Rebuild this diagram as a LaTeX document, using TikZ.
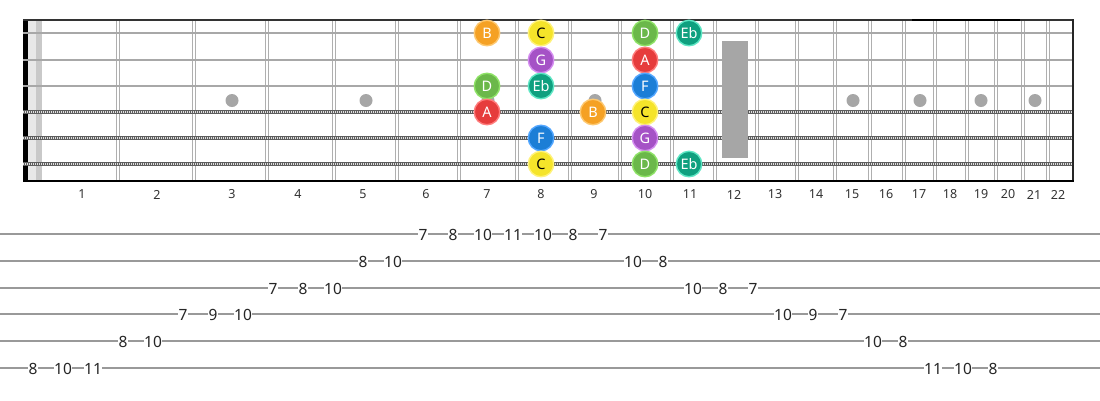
\documentclass[tikz,border=0pt]{standalone}
\usepackage{fontspec}
\setmainfont{Noto Sans}
\definecolor{cB}{HTML}{F5A124}\definecolor{cBr}{HTML}{FDC870}
\definecolor{cC}{HTML}{F5E42A}\definecolor{cCr}{HTML}{FFF27A}
\definecolor{cD}{HTML}{6BB84A}\definecolor{cDr}{HTML}{8EE266}
\definecolor{cE}{HTML}{0FA07F}\definecolor{cEr}{HTML}{5EE6C4}
\definecolor{cG}{HTML}{A552C6}\definecolor{cGr}{HTML}{D48CF0}
\definecolor{cA}{HTML}{E63C3C}\definecolor{cAr}{HTML}{FF7C7C}
\definecolor{cF}{HTML}{1C7ED6}\definecolor{cFr}{HTML}{52A6FF}
\definecolor{fretc}{HTML}{AFAFAF}
\definecolor{dotc}{HTML}{A6A6A6}
\definecolor{plainc}{HTML}{A8A8A8}
\definecolor{woundc}{HTML}{5E5E5E}
\definecolor{tabc}{HTML}{999999}
\begin{document}
\begin{tikzpicture}[x=1pt,y=-1pt,
  fretw/.style={draw=fretc,line width=1.3pt},
  plainstr/.style={draw=plainc,line width=2.8pt},
  woundstr/.style={draw=woundc,line width=4.6pt},
  woundtex/.style={draw=gray!25,line width=1.8pt,dash pattern=on 1pt off 1pt},
  fdot/.style={circle,fill=dotc,inner sep=0pt,minimum size=13pt},
  note/.style={circle,inner sep=0pt,minimum size=25.5pt,line width=1.4pt,text=white,
    font=\fontsize{14.5}{14.5}\selectfont},
  nB/.style={note,fill=cB,draw=cBr},
  nC/.style={note,fill=cC,draw=cCr,text=black},
  nD/.style={note,fill=cD,draw=cDr},
  nE/.style={note,fill=cE,draw=cEr},
  nG/.style={note,fill=cG,draw=cGr},
  nA/.style={note,fill=cA,draw=cAr},
  nF/.style={note,fill=cF,draw=cFr},
  fnum/.style={text=black!80,font=\fontsize{12.5}{12.5}\selectfont,inner sep=0pt},
  tabline/.style={draw=tabc,line width=2pt},
  tabn/.style={text=black!85,fill=white,inner sep=0.5pt,font=\fontsize{15.5}{15.5}\selectfont}
]
\useasboundingbox (0,0) rectangle (1100,400);
\fill[white] (0,0) rectangle (1100,400);
% nut area
\fill[gray!18] (28,20) rectangle (36,181);
\fill[gray!42] (36,20) rectangle (41.5,181);
\fill[black] (23,20) rectangle (27.5,181);
% fret wires
\foreach \b in {118,194,267,334,397,459,517,570,620,672,715,757,797,835,870,904,935,967,996,1023,1048}{
  \draw[fretw] (\b-1.4,20) -- (\b-1.4,181);
  \draw[fretw] (\b+1.4,20) -- (\b+1.4,181);
}
% inlay dots
\foreach \x/\n in {232/3,366/5,488/7,595/9,853/15,920/17,981/19,1035/21}{
  \node[fdot] (dot\n) at (\x,100.5) {};
}
% strings
\foreach \y in {33,60,86}{ \draw[plainstr] (23,\y) -- (1074,\y); }
\foreach \y in {112,138,164}{
  \draw[woundstr] (23,\y) -- (1074,\y);
  \draw[woundtex] (23,\y) -- (1074,\y);
}
% 12th fret marker
\fill[dotc] (722,41) rectangle (748,158);
% borders
\draw[black!80,line width=2pt] (23,20) -- (1074,20);
\draw[black,line width=2.3pt] (912,19.7) -- (1020,19.7);
\draw[black!85,line width=2pt] (1073,19) -- (1073,182);
\draw[black,line width=2pt] (23,181) -- (1074,181);
% notes
\node[nB] (s1f7)  at (487,33) {B};
\node[nC] (s1f8)  at (541,33) {C};
\node[nD] (s1f10) at (645,33) {D};
\node[nE] (s1f11) at (689,33) {Eb};
\node[nG] (s2f8)  at (541,60) {G};
\node[nA] (s2f10) at (645,60) {A};
\node[nD] (s3f7)  at (487,86) {D};
\node[nE] (s3f8)  at (541,86) {Eb};
\node[nF] (s3f10) at (645,86) {F};
\node[nA] (s4f7)  at (487,112) {A};
\node[nB] (s4f9)  at (593,112) {B};
\node[nC] (s4f10) at (645,112) {C};
\node[nF] (s5f8)  at (541,138) {F};
\node[nG] (s5f10) at (645,138) {G};
\node[nC] (s6f8)  at (541,164) {C};
\node[nD] (s6f10) at (645,164) {D};
\node[nE] (s6f11) at (689,164) {Eb};
% fret numbers
\foreach \x [count=\n] in {82,157,232,298,363,426,487,541,594,645,690,734,775,816,852,886,919,950,981,1008,1034,1058}{
  \node[fnum] (fn\n) at (\x,194.5) {\n};
}
% tab lines
\foreach \y in {234,261,288,314,341,368}{ \draw[tabline] (0,\y) -- (1100,\y); }
% tab numbers
\foreach \i/\y/\t in {0/368/8,1/368/10,2/368/11,3/341/8,4/341/10,5/314/7,6/314/9,7/314/10,8/288/7,9/288/8,10/288/10,
  11/261/8,12/261/10,13/234/7,14/234/8,15/234/10,16/234/11,17/234/10,18/234/8,19/234/7,20/261/10,21/261/8,
  22/288/10,23/288/8,24/288/7,25/314/10,26/314/9,27/314/7,28/341/10,29/341/8,30/368/11,31/368/10,32/368/8}{
  \node[tabn] (t\i) at ({33+30*\i},\y+0.5) {\t};
}
\end{tikzpicture}
\end{document}
